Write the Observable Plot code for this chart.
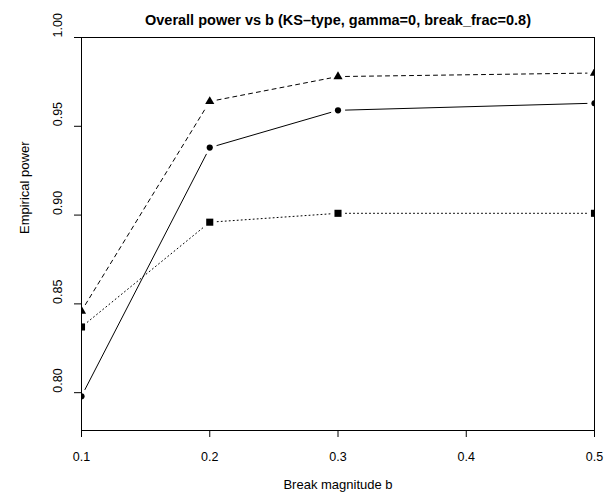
<!DOCTYPE html>
<html>
<head>
<meta charset="utf-8">
<script src="https://cdn.jsdelivr.net/npm/d3@7"></script>
<script src="https://cdn.jsdelivr.net/npm/@observablehq/plot@0.6"></script>
<style>
  html, body { margin: 0; padding: 0; background: white; }
  #chart svg { display: block; }
</style>
</head>
<body>
<div id="chart"></div>
<script>
const titleText = "Overall power vs b (KS\u2013type, gamma=0, break_frac=0.8)";
const xLabel = "Break magnitude b";
const yLabel = "Empirical power";
const bValues = [0.1, 0.2, 0.3, 0.5];
const powerCircle = [0.798, 0.938, 0.959, 0.963];
const powerTriangle = [0.846, 0.964, 0.978, 0.980];
const powerSquare = [0.837, 0.896, 0.901, 0.901];
const xTicks = [0.1, 0.2, 0.3, 0.4, 0.5];
const yTicks = [0.80, 0.85, 0.90, 0.95, 1.00];

function pts(vals) { return bValues.map((b, i) => ({b, p: vals[i]})); }
function segs(vals) {
  const out = [];
  for (let i = 0; i < bValues.length - 1; i++) {
    out.push({x1: bValues[i], y1: vals[i], x2: bValues[i + 1], y2: vals[i + 1]});
  }
  return out;
}
const series = [
  {vals: powerCircle, symbol: "circle", r: 3.1, dash: null},
  {vals: powerTriangle, symbol: "triangle", r: 3.4, dash: "4,4"},
  {vals: powerSquare, symbol: "square", r: 4.0, dash: "1,3"}
];

const marks = [];
for (const s of series) {
  marks.push(Plot.arrow(segs(s.vals), {
    x1: "x1", y1: "y1", x2: "x2", y2: "y2",
    stroke: "black", strokeWidth: 1, headLength: 0, inset: 7.5,
    strokeDasharray: s.dash, clip: true
  }));
}
for (const s of series) {
  marks.push(Plot.dot(pts(s.vals), {
    x: "b", y: "p", symbol: s.symbol, r: s.r, fill: "black", stroke: "none", clip: true
  }));
}
marks.push(
  Plot.axisY({ticks: yTicks, tickSize: 7, tickFormat: () => "", label: null, stroke: "black"}),
  Plot.text(yTicks, {y: d => d, text: d => d.toFixed(2), frameAnchor: "left", dx: -24, rotate: -90, fontSize: 12.5, fill: "black"}),
  Plot.axisX({ticks: xTicks, tickSize: 7, tickPadding: 15, tickFormat: d => d.toFixed(1), label: null, fontSize: 12.5, stroke: "black", fill: "black"}),
  Plot.text([xLabel], {frameAnchor: "bottom", dy: 58, text: d => d, fontSize: 13, fill: "black"}),
  Plot.text([yLabel], {frameAnchor: "left", dx: -57, rotate: -90, text: d => d, fontSize: 13, fill: "black"}),
  Plot.text([titleText], {frameAnchor: "top", dy: -23, text: d => d, fontWeight: "bold", fontSize: 14.5, fill: "black"}),
  Plot.frame({stroke: "black", strokeWidth: 1})
);

const chart = Plot.plot({
  width: 613,
  height: 504,
  marginLeft: 81,
  marginRight: 19,
  marginTop: 37,
  marginBottom: 74,
  x: {domain: [0.1, 0.5]},
  y: {domain: [0.7787, 1.0]},
  style: {fontFamily: "'Liberation Sans', Arial, Helvetica, sans-serif", fontSize: "12.5px", color: "black", background: "white"},
  marks
});
document.getElementById("chart").appendChild(chart);
</script>
</body>
</html>
